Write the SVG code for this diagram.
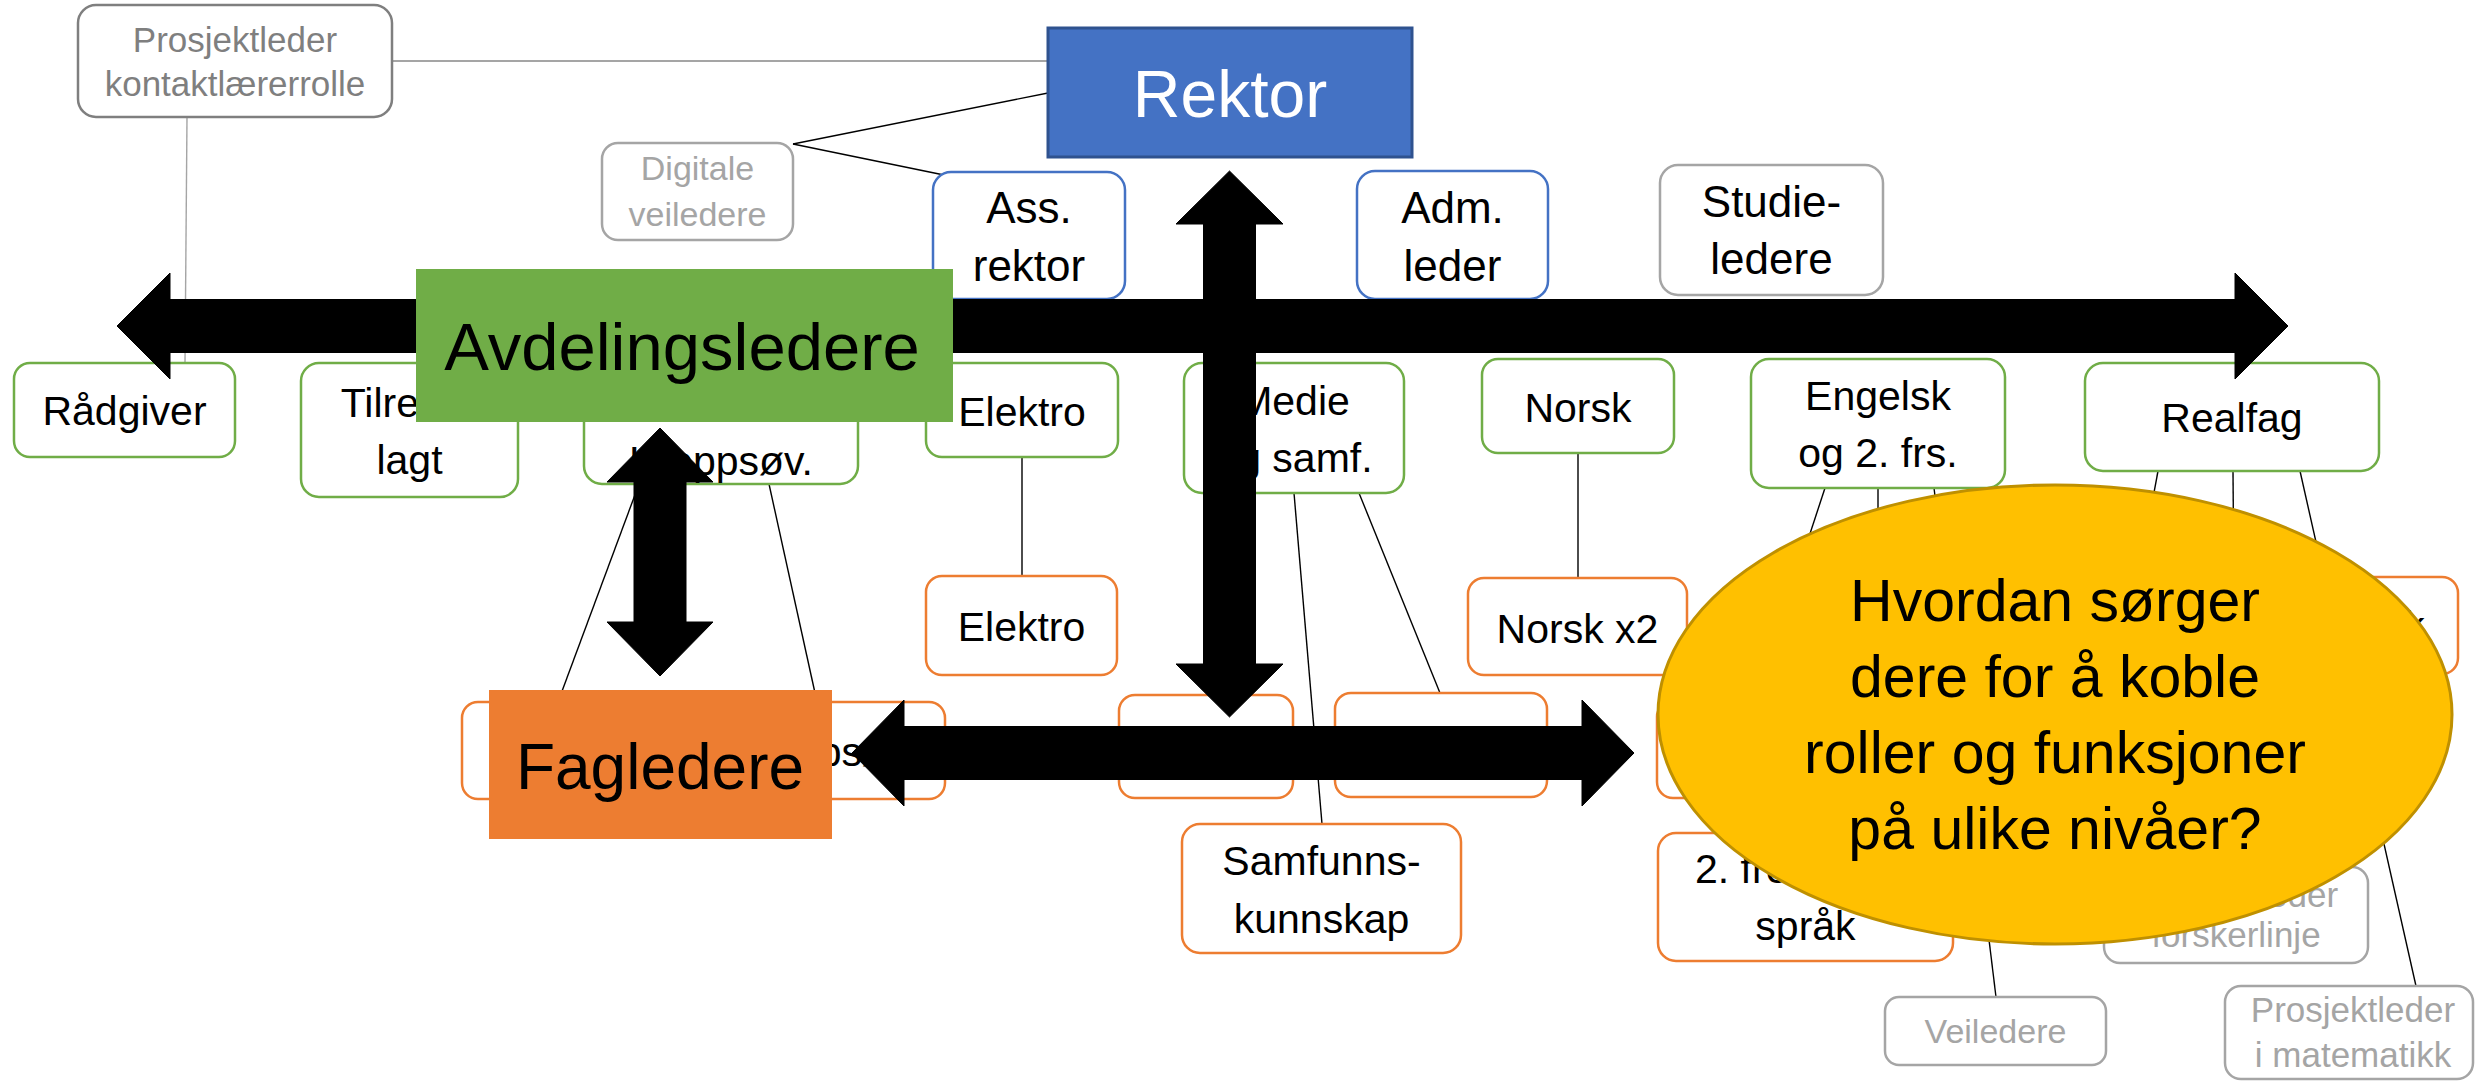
<svg xmlns="http://www.w3.org/2000/svg" width="2476" height="1081" viewBox="0 0 2476 1081">
<style>
text{font-family:"Liberation Sans",Arial,sans-serif;text-anchor:middle;fill:#000}
.box{fill:#fff;stroke-width:2.5}
.gn{stroke:#70AD47}
.bl{stroke:#4472C4}
.or{stroke:#ED7D31}
.gy{stroke:#A5A5A5}
.gd{stroke:#7F7F7F}
.t41{font-size:41px}
.t44{font-size:44px}
.t35{font-size:35px;fill:#A5A5A5}
.ln{stroke:#000;stroke-width:1.4;fill:none}
.lg{stroke:#A5A5A5;stroke-width:2;fill:none}
.arr{fill:#000;stroke:#000;stroke-width:1}
</style>
<rect width="2476" height="1081" fill="#fff"/>
<g id="connectors">
<line class="lg" x1="392" y1="61" x2="1048" y2="61"/>
<line class="lg" x1="187" y1="117" x2="185" y2="363" style="stroke-width:1.4"/>
<line class="ln" x1="793" y1="144" x2="1048" y2="93"/>
<line class="ln" x1="793" y1="144" x2="944" y2="175"/>
<line class="ln" x1="1022" y1="457" x2="1022" y2="576"/>
<line class="ln" x1="1578" y1="453" x2="1578" y2="578"/>
<line class="ln" x1="639" y1="484" x2="558" y2="702"/>
<line class="ln" x1="769" y1="484" x2="817" y2="702"/>
<line class="ln" x1="1294" y1="493" x2="1322" y2="824"/>
<line class="ln" x1="1359" y1="493" x2="1440" y2="693"/>
<line class="ln" x1="1825" y1="488" x2="1755" y2="701"/>
<line class="ln" x1="1878" y1="488" x2="1878" y2="833"/>
<line class="ln" x1="1934" y1="488" x2="1996" y2="997"/>
<line class="ln" x1="2158" y1="471" x2="2125" y2="650"/>
<line class="ln" x1="2233" y1="471" x2="2236" y2="867"/>
<line class="ln" x1="2300" y1="471" x2="2416" y2="986"/>
</g>
<g id="prosjektleder-kontaktlaererrolle">
<rect class="box gd" x="78" y="5" width="314" height="112" rx="18"/>
<text class="t35" x="235" y="52" style="fill:#7F7F7F">Prosjektleder</text>
<text class="t35" x="235" y="96" style="fill:#7F7F7F">kontaktlærerrolle</text>
</g>
<g id="rektor">
<rect x="1048" y="28" width="364" height="129" fill="#4472C4" stroke="#2F528F" stroke-width="3"/>
<text x="1230" y="117" style="font-size:66px;fill:#fff">Rektor</text>
</g>
<g id="digitale-veiledere">
<rect class="box gy" x="602" y="143" width="191" height="97" rx="16"/>
<text class="t35" x="697.5" y="180" style="font-size:34px">Digitale</text>
<text class="t35" x="697.5" y="226" style="font-size:34px">veiledere</text>
</g>
<g id="ass-rektor">
<rect class="box bl" x="933" y="172" width="192" height="127" rx="18"/>
<text class="t44" x="1029" y="223">Ass.</text>
<text class="t44" x="1029" y="281">rektor</text>
</g>
<g id="adm-leder">
<rect class="box bl" x="1357" y="171" width="191" height="128" rx="18"/>
<text class="t44" x="1452.5" y="223">Adm.</text>
<text class="t44" x="1452.5" y="281">leder</text>
</g>
<g id="studieledere">
<rect class="box gy" x="1660" y="165" width="223" height="130" rx="18"/>
<text class="t44" x="1771.5" y="217">Studie-</text>
<text class="t44" x="1771.5" y="274">ledere</text>
</g>
<g id="raadgiver">
<rect class="box gn" x="14" y="363" width="221" height="94" rx="16"/>
<text class="t41" x="124.5" y="425">Rådgiver</text>
</g>
<g id="tilrettelagt">
<rect class="box gn" x="301" y="363" width="217" height="134" rx="18"/>
<text class="t41" x="409.5" y="417">Tilrette-</text>
<text class="t41" x="409.5" y="474">lagt</text>
</g>
<g id="kroppsov-avd">
<rect class="box gn" x="584" y="363" width="274" height="121" rx="18"/>
<text class="t41" x="721" y="475">Kroppsøv.</text>
</g>
<g id="elektro-avd">
<rect class="box gn" x="926" y="363" width="192" height="94" rx="16"/>
<text class="t41" x="1022" y="426">Elektro</text>
</g>
<g id="medie-samf">
<rect class="box gn" x="1184" y="363" width="220" height="130" rx="18"/>
<text class="t41" x="1294" y="415">Medie</text>
<text class="t41" x="1294" y="472">og samf.</text>
</g>
<g id="norsk-avd">
<rect class="box gn" x="1482" y="359" width="192" height="94" rx="16"/>
<text class="t41" x="1578" y="422">Norsk</text>
</g>
<g id="engelsk">
<rect class="box gn" x="1751" y="359" width="254" height="129" rx="18"/>
<text class="t41" x="1878" y="410">Engelsk</text>
<text class="t41" x="1878" y="467">og 2. frs.</text>
</g>
<g id="realfag">
<rect class="box gn" x="2085" y="363" width="294" height="108" rx="18"/>
<text class="t41" x="2232" y="432">Realfag</text>
</g>
<g id="elektro-fag">
<rect class="box or" x="926" y="576" width="191" height="99" rx="16"/>
<text class="t41" x="1021.5" y="641">Elektro</text>
</g>
<g id="norsk-x2">
<rect class="box or" x="1468" y="578" width="219" height="97" rx="16"/>
<text class="t41" x="1577.5" y="643">Norsk x2</text>
</g>
<g id="matematikk">
<rect class="box or" x="2180" y="577" width="278" height="97" rx="16"/>
<text class="t41" x="2320" y="640">Matematikk</text>
</g>
<g id="fag-left">
<rect class="box or" x="462" y="702" width="200" height="97" rx="16"/>
</g>
<g id="kroppsov-fag">
<rect class="box or" x="703" y="702" width="242" height="97" rx="16"/>
<text class="t41" x="824" y="766">Kroppsøv.</text>
</g>
<g id="fag-a">
<rect class="box or" x="1119" y="695" width="174" height="103" rx="16"/>
</g>
<g id="fag-b">
<rect class="box or" x="1335" y="693" width="212" height="104" rx="16"/>
</g>
<g id="fag-c">
<rect class="box or" x="1657" y="701" width="250" height="97" rx="16"/>
</g>
<g id="samfunnskunnskap">
<rect class="box or" x="1182" y="824" width="279" height="129" rx="18"/>
<text class="t41" x="1321.5" y="875">Samfunns-</text>
<text class="t41" x="1321.5" y="933">kunnskap</text>
</g>
<g id="fremmedsprak">
<rect class="box or" x="1658" y="833" width="295" height="128" rx="18"/>
<text class="t41" x="1805.5" y="883">2. fremmed-</text>
<text class="t41" x="1805.5" y="940">språk</text>
</g>
<g id="prosjektleder-forskerlinje">
<rect class="box gy" x="2104" y="867" width="264" height="96" rx="16"/>
<text class="t35" x="2236" y="907">Prosjektleder</text>
<text class="t35" x="2236" y="947">forskerlinje</text>
</g>
<g id="veiledere">
<rect class="box gy" x="1885" y="997" width="221" height="68" rx="14"/>
<text class="t35" x="1995.5" y="1043" style="font-size:34px">Veiledere</text>
</g>
<g id="prosjektleder-matematikk">
<rect class="box gy" x="2225" y="986" width="248" height="93" rx="16"/>
<text class="t35" x="2353" y="1022">Prosjektleder</text>
<text class="t35" x="2353" y="1067">i matematikk</text>
</g>
<g id="arrows">
<polygon class="arr" points="117,326 170,273 170,299.5 2235,299.5 2235,273 2288,326 2235,379 2235,352.5 170,352.5 170,379"/>
<polygon class="arr" points="1229.5,171 1283,224 1255.5,224 1255.5,664 1283,664 1229.5,717 1176,664 1203.5,664 1203.5,224 1176,224"/>
<polygon class="arr" points="660,428 713,482 686,482 686,622 713,622 660,676 607,622 634,622 634,482 607,482"/>
<polygon class="arr" points="852,753 904,700 904,726.5 1582,726.5 1582,700 1634,753 1582,806 1582,779.5 904,779.5 904,806"/>
</g>
<g id="avdelingsledere">
<rect x="416" y="269" width="537" height="153" fill="#70AD47"/>
<text x="682" y="370" style="font-size:67px">Avdelingsledere</text>
</g>
<g id="fagledere">
<rect x="489" y="690" width="343" height="149" fill="#ED7D31"/>
<text x="660" y="789" style="font-size:64px">Fagledere</text>
</g>
<g id="sporsmal">
<ellipse cx="2055" cy="714.5" rx="397" ry="229.5" fill="#FFC000" stroke="#BF9000" stroke-width="3"/>
<text x="2055" y="621" style="font-size:59px">Hvordan sørger</text>
<text x="2055" y="697" style="font-size:59px">dere for å koble</text>
<text x="2055" y="773" style="font-size:59px">roller og funksjoner</text>
<text x="2055" y="849" style="font-size:59px">på ulike nivåer?</text>
</g>
</svg>
